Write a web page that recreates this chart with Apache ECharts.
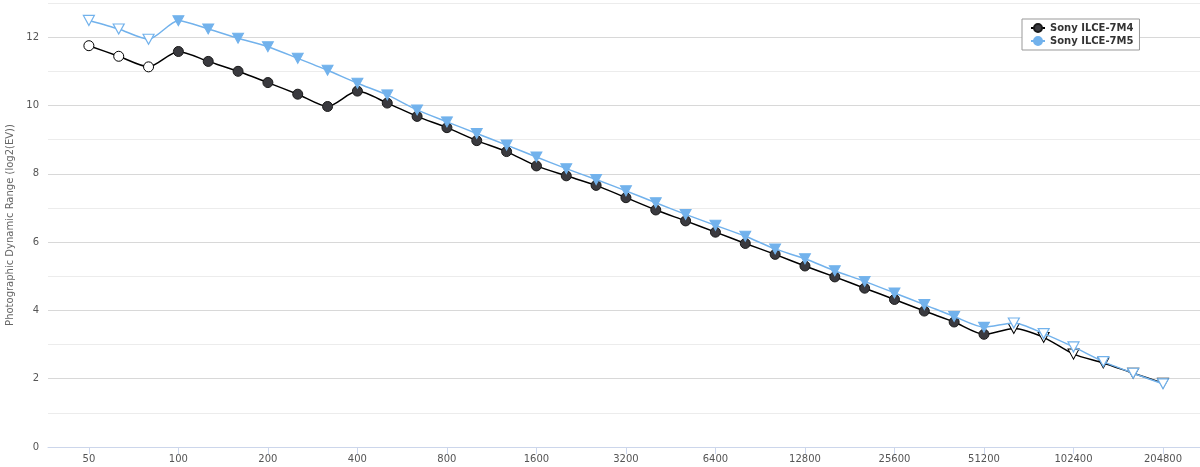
<!DOCTYPE html>
<html>
<head>
<meta charset="utf-8">
<script src="https://cdn.jsdelivr.net/npm/echarts@6/dist/echarts.min.js"></script>
<style>
html,body{margin:0;padding:0;background:#fff;}
#chart{width:1200px;height:467px;}
</style>
</head>
<body>
<div id="chart"></div>
<script>
const isoCategories = ['50','64','80','100','125','160','200','250','320','400','500','640','800','1000','1250','1600','2000','2500','3200','4000','5000','6400','8000','10000','12800','16000','20000','25600','32000','40000','51200','64000','80000','102400','128000','160000','204800'];
const tickLabels = ['50','100','200','400','800','1600','3200','6400','12800','25600','51200','102400','204800'];
const a7m4 = [11.75,11.44,11.13,11.58,11.29,11.00,10.67,10.33,9.97,10.42,10.07,9.68,9.35,8.97,8.65,8.23,7.94,7.66,7.30,6.94,6.62,6.29,5.96,5.64,5.30,4.98,4.65,4.32,3.98,3.66,3.30,3.47,3.21,2.72,2.46,2.16,1.87];
const a7m5 = [12.49,12.24,11.94,12.48,12.24,11.97,11.72,11.38,11.03,10.65,10.31,9.87,9.52,9.18,8.84,8.49,8.15,7.83,7.50,7.15,6.81,6.49,6.17,5.80,5.51,5.16,4.85,4.51,4.17,3.82,3.51,3.63,3.32,2.93,2.50,2.16,1.85];
// extended (open-marker) ISO settings
const open7m4 = ['50','64','80','64000','80000','102400','128000','160000','204800'];
const tri7m4 = ['64000','80000','102400','128000','160000','204800'];
const open7m5 = ['50','64','80','64000','80000','102400','128000','160000','204800'];

const BLUE = '#72b2ec';
const tickIdx = tickLabels.map(t => isoCategories.indexOf(t));

const d4 = a7m4.map((v, i) => {
  const c = isoCategories[i];
  const o = { value: [i, v] };
  if (tri7m4.includes(c)) { o.symbol = 'triangle'; o.symbolRotate = 180; o.symbolSize = [11, 10]; }
  if (open7m4.includes(c)) o.itemStyle = { color: '#ffffff', borderColor: '#000000', borderWidth: 1 };
  return o;
});
const d5 = a7m5.map((v, i) => {
  const c = isoCategories[i];
  const o = { value: [i, v], symbol: 'triangle', symbolRotate: 180, symbolSize: [11, 10] };
  if (open7m5.includes(c)) o.itemStyle = { color: '#ffffff', borderColor: BLUE, borderWidth: 1.2 };
  return o;
});

const chart = echarts.init(document.getElementById('chart'), null, { renderer: 'canvas' });
const FONT = 'DejaVu Sans';
chart.setOption({
  animation: false,
  backgroundColor: '#ffffff',
  grid: { left: 48, right: 0, top: 3, bottom: 20, containLabel: false, outerBoundsMode: 'none' },
  legend: {
    orient: 'vertical', left: 1022, top: 19,
    borderColor: '#999999', borderWidth: 1, backgroundColor: '#ffffff',
    padding: [4, 6, 4, 8], itemGap: 3, itemWidth: 14, itemHeight: 10,
    textStyle: { fontFamily: FONT, fontSize: 10, fontWeight: 'bold', color: '#333333' },
    data: ['Sony ILCE-7M4', 'Sony ILCE-7M5']
  },
  xAxis: {
    type: 'value', min: -1.37, max: 37.24,
    axisLine: { show: true, lineStyle: { color: '#ccd6eb', width: 1 } },
    axisTick: { show: true, customValues: tickIdx, length: 7, lineStyle: { color: '#ccd6eb' } },
    axisLabel: {
      customValues: tickIdx, margin: 7,
      formatter: v => isoCategories[Math.round(v)] || '',
      fontFamily: FONT, fontSize: 10, color: '#555555'
    },
    splitLine: { show: false }
  },
  yAxis: {
    type: 'value', min: 0, max: 13, interval: 1,
    name: 'Photographic Dynamic Range (log2(EV))',
    nameLocation: 'middle', nameGap: 33,
    nameTextStyle: { fontFamily: FONT, fontSize: 10, color: '#666666' },
    axisLine: { show: false }, axisTick: { show: false },
    axisLabel: { formatter: v => (v % 2 === 0 && v < 13) ? String(v) : '', fontFamily: FONT, fontSize: 10, color: '#555555', margin: 9 },
    splitLine: { show: true, lineStyle: { color: ['#d8d8d8', '#ececec'], width: 1 } }
  },
  series: [
    {
      name: 'Sony ILCE-7M4', type: 'line', smooth: 0.25,
      symbol: 'circle', symbolSize: 10,
      lineStyle: { color: '#000000', width: 1.5 },
      itemStyle: { color: '#3a3a3f', borderColor: '#1a1a1a', borderWidth: 1 },
      data: d4, z: 2
    },
    {
      name: 'Sony ILCE-7M5', type: 'line', smooth: 0.25,
      symbol: 'circle', symbolSize: 10,
      lineStyle: { color: BLUE, width: 1.5 },
      itemStyle: { color: BLUE, borderColor: BLUE, borderWidth: 1 },
      data: d5, z: 3
    }
  ]
});
</script>
</body>
</html>
